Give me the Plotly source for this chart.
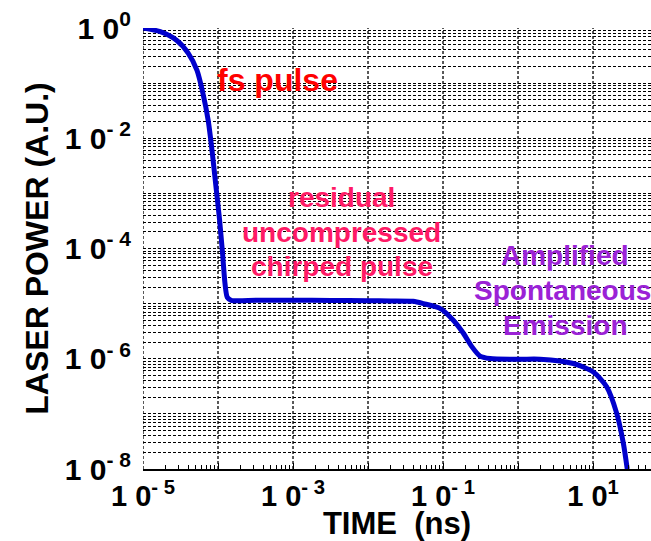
import plotly.graph_objects as go

# Laser power contrast profile (time in ns, power in arbitrary units)
time_ns = [
    1.0e-5, 1.7e-5, 2.8e-5, 4.0e-5, 5.25e-5, 6.3e-5, 7.4e-5, 8.4e-5, 9.4e-5,
    1.05e-4, 1.15e-4, 1.24e-4, 1.33e-4, 1.5e-4, 3.2e-4, 1.0e-3, 3.2e-3,
    1.0e-2, 2.0e-2, 4.0e-2, 5.5e-2, 9.1e-2, 0.137, 0.187, 0.242, 0.311,
    0.424, 1.06, 1.96, 5.46, 10.1, 15.2, 20.7, 25.4, 28.6,
]
power_au = [
    1.0, 0.857, 0.60, 0.35, 0.17, 0.065, 0.021, 5.4e-3, 1.3e-3,
    3.3e-4, 8.1e-5, 2.3e-5, 1.3e-5, 1.15e-5, 1.15e-5, 1.15e-5, 1.14e-5,
    1.13e-5, 1.12e-5, 1.1e-5, 1.0e-5, 8.2e-6, 5.0e-6, 2.9e-6, 1.66e-6, 1.12e-6,
    1.01e-6, 9.8e-7, 9.8e-7, 8.2e-7, 5.75e-7, 3.1e-7, 1.02e-7, 2.9e-8, 1.0e-8,
]

# Axis ticks
x_major = [1e-5, 1e-4, 1e-3, 1e-2, 1e-1, 1e0, 1e1]
x_major_text = ["1 0<sup>- 5</sup>", "", "1 0<sup>- 3</sup>", "",
                "1 0<sup>- 1</sup>", "", "1 0<sup>1</sup>"]
y_major = [1e-8, 1e-7, 1e-6, 1e-5, 1e-4, 1e-3, 1e-2, 1e-1, 1e0]
y_major_text = ["1 0<sup>- 8</sup>", "", "1 0<sup>- 6</sup>", "",
                "1 0<sup>- 4</sup>", "", "1 0<sup>- 2</sup>", "", "1 0<sup>0</sup>"]

x_minor = [m * 10.0 ** e for e in range(-5, 2) for m in range(2, 10)]
y_minor = [m * 10.0 ** e for e in range(-8, 0) for m in range(2, 10)]

FONT = "Liberation Sans, Arial, Helvetica, sans-serif"
GRID_DASH = "3px,2px"

fig = go.Figure()
fig.add_trace(go.Scatter(
    x=time_ns, y=power_au, mode="lines",
    line=dict(color="#0000cc", width=5, shape="spline", smoothing=0.7),
    hoverinfo="skip", showlegend=False,
))

fig.update_xaxes(
    type="log", range=[-5, 1.773],
    tickmode="array", tickvals=x_major, ticktext=x_major_text,
    ticks="inside", ticklen=6, tickcolor="black", tickwidth=1,
    showgrid=False,
    showline=True, linecolor="black", linewidth=2, mirror=False,
    tickfont=dict(family=FONT, size=29, color="black", weight="bold"),
    minor=dict(tickmode="array", tickvals=x_minor, ticks="inside", ticklen=4,
               tickcolor="black", tickwidth=1, showgrid=False),
    title=dict(text="TIME\u00a0 (ns)", standoff=8,
               font=dict(family=FONT, size=31, color="black", weight="bold")),
)
fig.update_yaxes(
    type="log", range=[-8, 0],
    tickmode="array", tickvals=y_major, ticktext=y_major_text,
    ticks="", ticklabelstandoff=11,
    showgrid=True, gridcolor="black", gridwidth=1, griddash=GRID_DASH,
    showline=False,
    tickfont=dict(family=FONT, size=30, color="black", weight="bold"),
    minor=dict(tickmode="array", tickvals=y_minor, ticks="",
               showgrid=True, gridcolor="black", gridwidth=1, griddash=GRID_DASH),
    title=dict(text="LASER POWER (A.U.)", standoff=6,
               font=dict(family=FONT, size=32, color="black", weight="bold")),
)

# vertical dashed grid at every decade of time
for xv in x_major:
    fig.add_shape(
        type="line", xref="x", yref="paper", x0=xv, x1=xv, y0=0, y1=1,
        line=dict(color="black", width=1.3, dash=GRID_DASH), layer="below",
    )

def px_to_data(px, py):
    # convert a position in the 651x541 page to log-axis coordinates
    lx = -5 + (px - 143) / 75.0
    ly = -(py - 28) / 55.125
    return lx, ly

labels = [
    ("fs pulse", 277.5, 80, 32, "#ff0000"),
    ("residual", 341.5, 197, 28, "#ff1a66"),
    ("uncompressed", 341.5, 232, 28, "#ff1a66"),
    ("chirped pulse", 341.5, 266, 28, "#ff1a66"),
    ("Amplified", 565, 255, 28, "#9b22d6"),
    ("Spontaneous", 562, 290, 28, "#9b22d6"),
    ("Emission", 564.5, 325, 28, "#9b22d6"),
]
for text, px, py, size, color in labels:
    lx, ly = px_to_data(px, py)
    fig.add_annotation(
        x=lx, y=ly, xref="x", yref="y", text=text, showarrow=False,
        xanchor="center", yanchor="middle",
        font=dict(family=FONT, size=size, color=color, weight="bold"),
    )

fig.update_layout(
    width=651, height=541,
    margin=dict(l=143, r=0, t=28, b=72),
    paper_bgcolor="white", plot_bgcolor="white",
)

fig.write_html("out.html")
